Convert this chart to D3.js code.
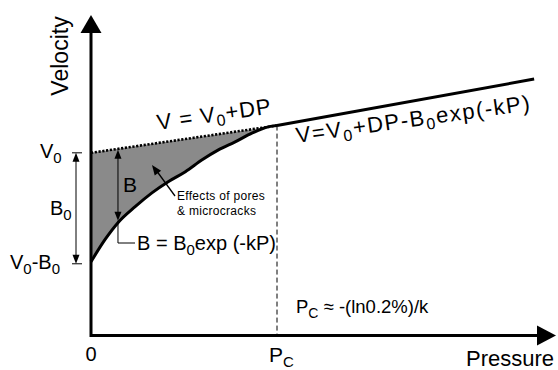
<!DOCTYPE html>
<html>
<head>
<meta charset="utf-8">
<script src="https://cdn.jsdelivr.net/npm/d3@7"></script>
<style>
  body { margin: 0; background: #fff; }
  svg { font-family: "Liberation Sans", Arial, sans-serif; }
</style>
</head>
<body>
<div class="container"></div>
<script>
const width = 558,
    height = 370;

// pressure / velocity (arbitrary units)
const curvePressure = [0, 0.3, 0.58, 0.95, 1.31, 1.66, 2.03, 2.39, 2.74, 3.1, 3.47, 3.81, 4.0];
const curveVelocity = [2.3, 2.99, 3.52, 4.02, 4.45, 4.8, 5.11, 5.48, 5.79, 6.04, 6.32, 6.51, 6.55];
const dottedPressure = [0, 4.0];
const dottedVelocity = [5.7, 6.55];
const highPressure = [4.0, 9.53];
const highVelocity = [6.55, 8.0];
const v0 = 5.7, v0MinusB0 = 2.3, pc = 4.0;
const axisMax = [10, 10];

let svg;

const createCanvas = () => {
  return d3.select('.container')
    .append('svg')
    .attr('width', width)
    .attr('height', height);
};

const defineScales = () => {
  const xScale = d3.scaleLinear().domain([0, axisMax[0]]).range([91, 556]);
  const yScale = d3.scaleLinear().domain([0, axisMax[1]]).range([335.5, 15]);
  return { xScale, yScale };
};

const zip = (a, b) => a.map((d, i) => [d, b[i]]);

const arrowHead = (tip, dir, len, half) => {
  // dir: unit vector pointing toward tip
  const [tx, ty] = tip, [dx, dy] = dir;
  const bx = tx - dx * len, by = ty - dy * len;
  return `M${tx},${ty}L${bx - dy * half},${by + dx * half}L${bx + dy * half},${by - dx * half}Z`;
};

const drawMarks = (s) => {
  const line = d3.line().x(d => s.xScale(d[0])).y(d => s.yScale(d[1]));
  const curve = zip(curvePressure, curveVelocity);

  // shaded region between V0+DP and the curve
  const area = curve.concat(zip(dottedPressure, dottedVelocity).reverse());
  svg.append('path')
    .attr('d', d3.line().x(d => s.xScale(d[0])).y(d => s.yScale(d[1])).curve(d3.curveLinearClosed)(area))
    .attr('fill', '#8a8a8a');

  // Pc dashed line
  svg.append('line')
    .attr('x1', s.xScale(pc)).attr('x2', s.xScale(pc))
    .attr('y1', s.yScale(dottedVelocity[1])).attr('y2', s.yScale(0))
    .attr('stroke', '#000').attr('stroke-width', 1)
    .attr('stroke-dasharray', '5,3');

  svg.append('path')
    .attr('d', line(zip(dottedPressure, dottedVelocity)))
    .attr('fill', 'none').attr('stroke', '#000')
    .attr('stroke-width', 2.6).attr('stroke-dasharray', '2.2,1.6');

  svg.append('path')
    .attr('d', line.curve(d3.curveMonotoneX)(curve))
    .attr('fill', 'none').attr('stroke', '#000').attr('stroke-width', 3);

  svg.append('path')
    .attr('d', d3.line().x(d => s.xScale(d[0])).y(d => s.yScale(d[1]))(zip(highPressure, highVelocity)))
    .attr('fill', 'none').attr('stroke', '#000').attr('stroke-width', 3);
};

const drawAxes = (s) => {
  const x0 = s.xScale(0), y0 = s.yScale(0);
  const xEnd = s.xScale(axisMax[0]), yEnd = s.yScale(axisMax[1]);
  svg.append('path')
    .attr('d', `M${x0},${yEnd + 15}L${x0},${y0}L${xEnd - 15},${y0}`)
    .attr('fill', 'none').attr('stroke', '#000').attr('stroke-width', 3);
  svg.append('path').attr('d', arrowHead([x0, yEnd], [0, -1], 18, 10.5));
  svg.append('path').attr('d', arrowHead([xEnd, y0], [1, 0], 19, 10));
};

const drawGuides = (s) => {
  const yV0 = s.yScale(v0), yVB = s.yScale(v0MinusB0);
  const bx = 76;
  // B0 arrow with ticks
  svg.append('line').attr('x1', 72).attr('x2', 82).attr('y1', yV0).attr('y2', yV0)
    .attr('stroke', '#000').attr('stroke-width', 1);
  svg.append('line').attr('x1', 72).attr('x2', 82).attr('y1', yVB + 2).attr('y2', yVB + 2)
    .attr('stroke', '#000').attr('stroke-width', 1);
  svg.append('line').attr('x1', bx).attr('x2', bx).attr('y1', yV0 + 6).attr('y2', yVB - 4)
    .attr('stroke', '#000').attr('stroke-width', 1);
  svg.append('path').attr('d', arrowHead([bx, yV0], [0, -1], 9, 3.5));
  svg.append('path').attr('d', arrowHead([bx, yVB + 2], [0, 1], 9, 3.5));

  // B arrow at P ~ 0.58
  const pb = curvePressure[2];
  const xb = s.xScale(pb);
  const yTop = s.yScale(dottedVelocity[0] + (dottedVelocity[1] - dottedVelocity[0]) * pb / pc);
  const yBot = s.yScale(curveVelocity[2]) - 2;
  svg.append('line').attr('x1', xb).attr('x2', xb).attr('y1', yTop + 6).attr('y2', yBot - 6)
    .attr('stroke', '#000').attr('stroke-width', 1);
  svg.append('path').attr('d', arrowHead([xb, yTop + 1], [0, -1], 9, 3.5));
  svg.append('path').attr('d', arrowHead([xb, yBot], [0, 1], 9, 3.5));
  svg.append('path')
    .attr('d', `M${xb},${yBot}L${xb},243L135,243`)
    .attr('fill', 'none').attr('stroke', '#000').attr('stroke-width', 1);

  // effects arrow
  svg.append('line').attr('x1', 175).attr('y1', 196).attr('x2', 156).attr('y2', 170)
    .attr('stroke', '#000').attr('stroke-width', 1.3);
  const len = Math.hypot(175 - 152, 196 - 165);
  svg.append('path').attr('d', arrowHead([152, 165], [(152 - 175) / len, (165 - 196) / len], 10, 4));
};

// text with subscript parts: [[text, isSub], ...]
const richText = (g, parts, subSize) => {
  let shifted = false;
  parts.forEach(([t, sub]) => {
    const ts = g.append('tspan').text(t);
    if (sub && !shifted) { ts.attr('dy', 5).attr('font-size', subSize); shifted = true; }
    else if (sub) { ts.attr('font-size', subSize); }
    else if (shifted) { ts.attr('dy', -5); shifted = false; }
  });
  return g;
};

const drawLabels = (s) => {
  svg.append('text')
    .attr('transform', 'translate(68,56) rotate(-90)')
    .attr('text-anchor', 'middle').attr('font-size', 23)
    .text('Velocity');

  svg.append('text')
    .attr('x', 554).attr('y', 366).attr('text-anchor', 'end').attr('font-size', 22)
    .text('Pressure');

  svg.append('text')
    .attr('x', s.xScale(0)).attr('y', 361).attr('text-anchor', 'middle').attr('font-size', 20)
    .text('0');

  richText(svg.append('text').attr('x', s.xScale(pc) - 8).attr('y', 362).attr('font-size', 21),
    [['P'], ['C', true]], 15);

  richText(svg.append('text').attr('x', 40).attr('y', s.yScale(v0) + 5).attr('font-size', 20),
    [['V'], ['0', true]], 15);
  richText(svg.append('text').attr('x', 50).attr('y', 215).attr('font-size', 20),
    [['B'], ['0', true]], 15);
  richText(svg.append('text').attr('x', 10).attr('y', s.yScale(v0MinusB0) + 7).attr('font-size', 20),
    [['V'], ['0', true], ['-B'], ['0', true]], 15);

  svg.append('text').attr('x', 123).attr('y', 192).attr('font-size', 21).text('B');

  richText(svg.append('text').attr('x', 137).attr('y', 250).attr('font-size', 20),
    [['B = B'], ['0', true], ['exp (-kP)']], 15);

  svg.append('text').attr('x', 177).attr('y', 200).attr('font-size', 12)
    .attr('letter-spacing', 0.3).text('Effects of pores');
  svg.append('text').attr('x', 177).attr('y', 214.5).attr('font-size', 12)
    .attr('letter-spacing', 0.3).text('& microcracks');

  richText(svg.append('text').attr('x', 296).attr('y', 313).attr('font-size', 18.5),
    [['P'], ['C', true], [' \u2248 -(ln0.2%)/k']], 14);

  // labels along the lines
  const angLow = Math.atan2(s.yScale(dottedVelocity[1]) - s.yScale(dottedVelocity[0]),
    s.xScale(dottedPressure[1]) - s.xScale(dottedPressure[0])) * 180 / Math.PI;
  richText(svg.append('text')
      .attr('transform', `translate(158,130) rotate(${angLow})`)
      .attr('font-size', 22).attr('letter-spacing', 1),
    [['V = V'], ['0', true], ['+DP']], 16);

  richText(svg.append('text')
      .attr('transform', 'translate(297,143) rotate(-8)')
      .attr('font-size', 22).attr('letter-spacing', 1.6),
    [['V=V'], ['0', true], ['+DP-B'], ['0', true], ['exp(-kP)']], 16);
};

const drawChart = () => {
  svg = createCanvas();
  const scales = defineScales();
  drawMarks(scales);
  drawAxes(scales);
  drawGuides(scales);
  drawLabels(scales);
};

drawChart();
</script>
</body>
</html>
